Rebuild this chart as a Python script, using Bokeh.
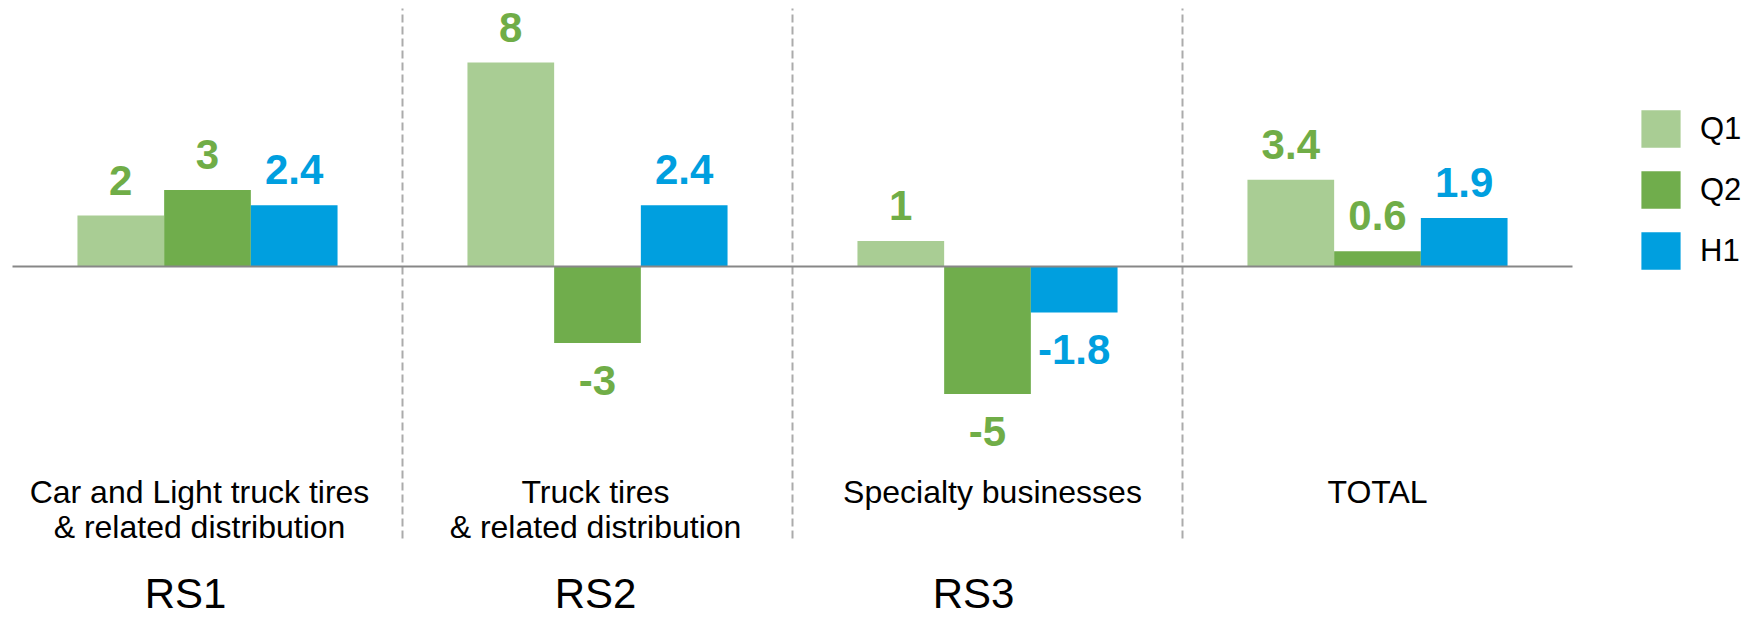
from bokeh.plotting import figure
from bokeh.models import Range1d, ColumnDataSource, Legend, LegendItem
from bokeh.transform import dodge
from bokeh.core.properties import value
from bokeh.embed import file_html
from bokeh.resources import INLINE

# ---- data ----
segments_line1 = ["Car and Light truck tires", "Truck tires", "Specialty businesses", "TOTAL"]
segments_line2 = ["& related distribution", "& related distribution", "", ""]
rs_labels = ["RS1", "RS2", "RS3"]
series = ["Q1", "Q2", "H1"]
q1 = [2, 8, 1, 3.4]
q2 = [3, -3, -5, 0.6]
h1 = [2.4, 2.4, -1.8, 1.9]

# ---- styles / geometry ----
colors = ["#A9CD94", "#70AD4C", "#009FDF"]
label_colors = ["#70AD47", "#70AD47", "#009FDF"]
FONT = "Liberation Sans"
W, H = 1751, 619
group_px = 390.0
left_px = 12.0
zero_px = 266.0
unit_px = 25.5
bw = 0.2223

x_idx = [i + 0.5 for i in range(len(segments_line1))]

p = figure(width=W, height=H, output_backend="svg", toolbar_location=None,
           x_axis_type=None, y_axis_type=None, min_border=0,
           x_range=Range1d(-left_px / group_px, (W - left_px) / group_px),
           y_range=Range1d(-(H - zero_px) / unit_px, zero_px / unit_px))
p.grid.visible = False
p.outline_line_color = None
p.background_fill_color = "white"
p.border_fill_color = "white"

data = dict(x=x_idx)
vals = [q1, q2, h1]
for s, v in zip(series, vals):
    data[s] = v
    data[s + "_lbl"] = [f"{a:g}" for a in v]
    data[s + "_off"] = [-35.5 if a >= 0 else 37 for a in v]
src = ColumnDataSource(data)

# dividers
p.segment(x0=[1, 2, 3], x1=[1, 2, 3],
          y0=(zero_px - 538) / unit_px, y1=(zero_px - 8) / unit_px,
          line_color="#ABABAB", line_width=2, line_dash="8 4")

renderers = []
offsets = [-bw, 0, bw]
for k, s in enumerate(series):
    r = p.vbar(x=dodge("x", offsets[k], range=p.x_range), top=s, bottom=0, width=bw,
               source=src, fill_color=colors[k], line_color=None)
    renderers.append(r)
    p.text(x=dodge("x", offsets[k], range=p.x_range), y=s, text=s + "_lbl", source=src,
           y_offset=s + "_off", text_align="center", text_baseline="alphabetic",
           text_font=value(FONT), text_font_style="bold", text_font_size="42px",
           text_color=label_colors[k])

# zero line
p.segment(x0=0, x1=len(segments_line1), y0=0, y1=0, line_color="#878787", line_width=2)

# category labels
cat_src = ColumnDataSource(dict(x=x_idx, l1=segments_line1, l2=segments_line2,
                                dx=[-8, -2, 5, 0]))
p.text(x="x", y=0, text="l1", source=cat_src, x_offset="dx", y_offset=225,
       text_align="center", text_baseline="alphabetic", text_font=value(FONT),
       text_font_size="32px", text_color="#000000")
p.text(x="x", y=0, text="l2", source=cat_src, x_offset="dx", y_offset=260,
       text_align="center", text_baseline="alphabetic", text_font=value(FONT),
       text_font_size="32px", text_color="#000000")

rs_src = ColumnDataSource(dict(x=x_idx[:3], t=rs_labels, dx=[-22, -2, -14]))
p.text(x="x", y=0, text="t", source=rs_src, x_offset="dx", y_offset=327,
       text_align="center", text_baseline="alphabetic", text_font=value(FONT),
       text_font_size="42px", text_color="#000000")

legend = Legend(items=[LegendItem(label=s, renderers=[r]) for s, r in zip(series, renderers)],
                location=(1636, 345), orientation="vertical",
                glyph_width=49, glyph_height=47, label_height=47, spacing=14,
                padding=0, margin=0, border_line_color=None, background_fill_alpha=0,
                label_text_font=FONT, label_text_font_size="31px", label_standoff=15,
                label_text_color="#000000")
p.add_layout(legend)

open("out.html", "w").write(file_html(p, INLINE))
